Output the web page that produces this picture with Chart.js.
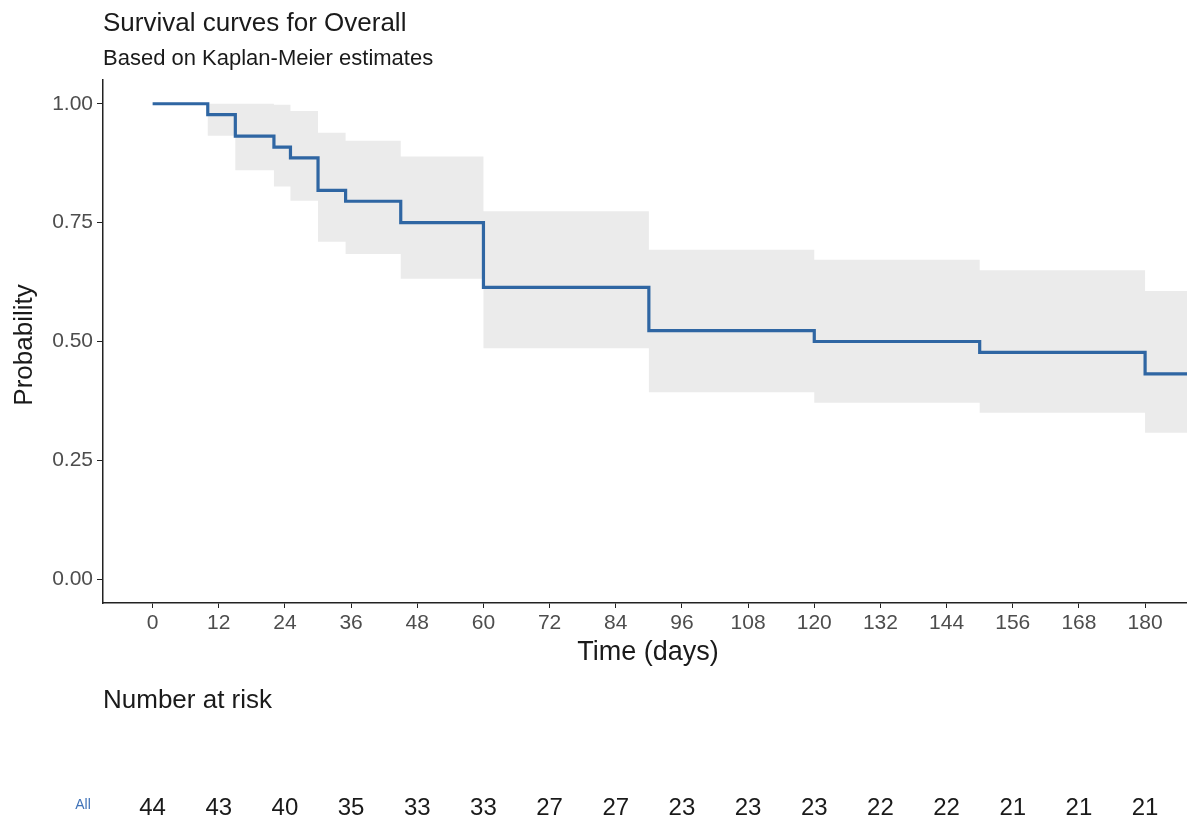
<!DOCTYPE html>
<html lang="en">

<head>
    <title>Survival curves for Overall</title>
    <meta charset="utf-8">
    <script src="https://cdn.jsdelivr.net/npm/chart.js"></script>
    <style>
        body { margin: 0; background: #fff; }
        canvas { display: block; }
    </style>
</head>

<body>
    <canvas id="kmChart" width="1187" height="820"></canvas>

    <script>
        // Kaplan-Meier estimate
        const times = [0, 10, 15, 22, 25, 30, 35, 45, 60, 90, 120, 150, 180, 188];
        const survival = [1.000, 0.977, 0.932, 0.909, 0.886, 0.818, 0.795, 0.750, 0.614, 0.523, 0.500, 0.477, 0.432, 0.432];
        const upperCI = [1.000, 1.000, 1.000, 0.998, 0.985, 0.939, 0.922, 0.889, 0.774, 0.693, 0.672, 0.650, 0.606, 0.606];
        const lowerCI = [1.000, 0.933, 0.860, 0.826, 0.796, 0.710, 0.684, 0.632, 0.486, 0.393, 0.371, 0.350, 0.308, 0.308];

        // axis ticks and number-at-risk table
        const xTicks = [0, 12, 24, 36, 48, 60, 72, 84, 96, 108, 120, 132, 144, 156, 168, 180];
        const yTicks = [0, 0.25, 0.5, 0.75, 1];
        const atRisk = [44, 43, 40, 35, 33, 33, 27, 27, 23, 23, 23, 22, 22, 21, 21, 21];

        const FONT = "'Liberation Sans', Arial, sans-serif";
        const toPoints = (ys) => times.map((t, i) => ({ x: t, y: ys[i] }));

        // titles, axis labels and the risk table
        const textPlugin = {
            id: 'kmText',
            afterDraw(chart) {
                const ctx = chart.ctx;
                const x = chart.scales.x;
                ctx.save();
                ctx.fillStyle = '#1a1a1a';
                ctx.textBaseline = 'alphabetic';

                ctx.textAlign = 'left';
                ctx.font = '26px ' + FONT;
                ctx.fillText('Survival curves for Overall', 103, 31);
                ctx.font = '22px ' + FONT;
                ctx.fillText('Based on Kaplan-Meier estimates', 103, 65);

                ctx.font = '26px ' + FONT;
                ctx.fillText('Number at risk', 103, 708);

                ctx.textAlign = 'center';
                ctx.font = '27px ' + FONT;
                ctx.fillText('Time (days)', 648, 660);

                ctx.save();
                ctx.translate(32, 345);
                ctx.rotate(-Math.PI / 2);
                ctx.font = '26px ' + FONT;
                ctx.fillText('Probability', 0, 0);
                ctx.restore();

                ctx.font = '24px ' + FONT;
                xTicks.forEach((t, i) => {
                    ctx.fillText(String(atRisk[i]), x.getPixelForValue(t), 815);
                });

                ctx.fillStyle = '#3f72b8';
                ctx.font = '14px ' + FONT;
                ctx.fillText('All', 83, 809);
                ctx.restore();
            }
        };

        const ctx = document.getElementById('kmChart').getContext('2d');
        const kmChart = new Chart(ctx, {
            type: 'line',
            data: {
                datasets: [
                    {
                        label: 'All',
                        data: toPoints(survival),
                        borderColor: '#2f66a3',
                        borderWidth: 3.2,
                        stepped: 'before',
                        pointRadius: 0,
                        fill: false
                    },
                    {
                        label: 'upper',
                        data: toPoints(upperCI),
                        borderWidth: 0,
                        borderColor: 'rgba(0,0,0,0)',
                        stepped: 'before',
                        pointRadius: 0,
                        fill: false
                    },
                    {
                        label: 'lower',
                        data: toPoints(lowerCI),
                        borderWidth: 0,
                        borderColor: 'rgba(0,0,0,0)',
                        backgroundColor: '#ebebeb',
                        stepped: 'before',
                        pointRadius: 0,
                        fill: '-1'
                    }
                ]
            },
            options: {
                responsive: false,
                animation: false,
                layout: { padding: { top: 80, right: 0, left: 0, bottom: 0 } },
                plugins: {
                    legend: { display: false },
                    tooltip: { enabled: false },
                    title: { display: false }
                },
                scales: {
                    x: {
                        type: 'linear',
                        min: -9,
                        max: 187.6,
                        afterBuildTicks: (scale) => { scale.ticks = xTicks.map(v => ({ value: v })); },
                        afterFit: (scale) => { scale.height = 217; },
                        ticks: {
                            font: { family: FONT, size: 21 },
                            color: '#4d4d4d',
                            padding: 3,
                            maxRotation: 0,
                            autoSkip: false,
                            callback: (v) => String(v)
                        },
                        grid: { drawOnChartArea: false, drawTicks: true, tickLength: 5, color: '#222' },
                        border: { display: true, color: '#222', width: 1.5 }
                    },
                    y: {
                        type: 'linear',
                        min: -0.05,
                        max: 1.05,
                        afterBuildTicks: (scale) => { scale.ticks = yTicks.map(v => ({ value: v })); },
                        afterFit: (scale) => { scale.width = 103; },
                        ticks: {
                            font: { family: FONT, size: 21 },
                            color: '#4d4d4d',
                            padding: 4,
                            callback: (v) => v.toFixed(2)
                        },
                        grid: { drawOnChartArea: false, drawTicks: true, tickLength: 6, color: '#222' },
                        border: { display: true, color: '#222', width: 1.5 }
                    }
                }
            },
            plugins: [textPlugin]
        });
    </script>
</body>

</html>
